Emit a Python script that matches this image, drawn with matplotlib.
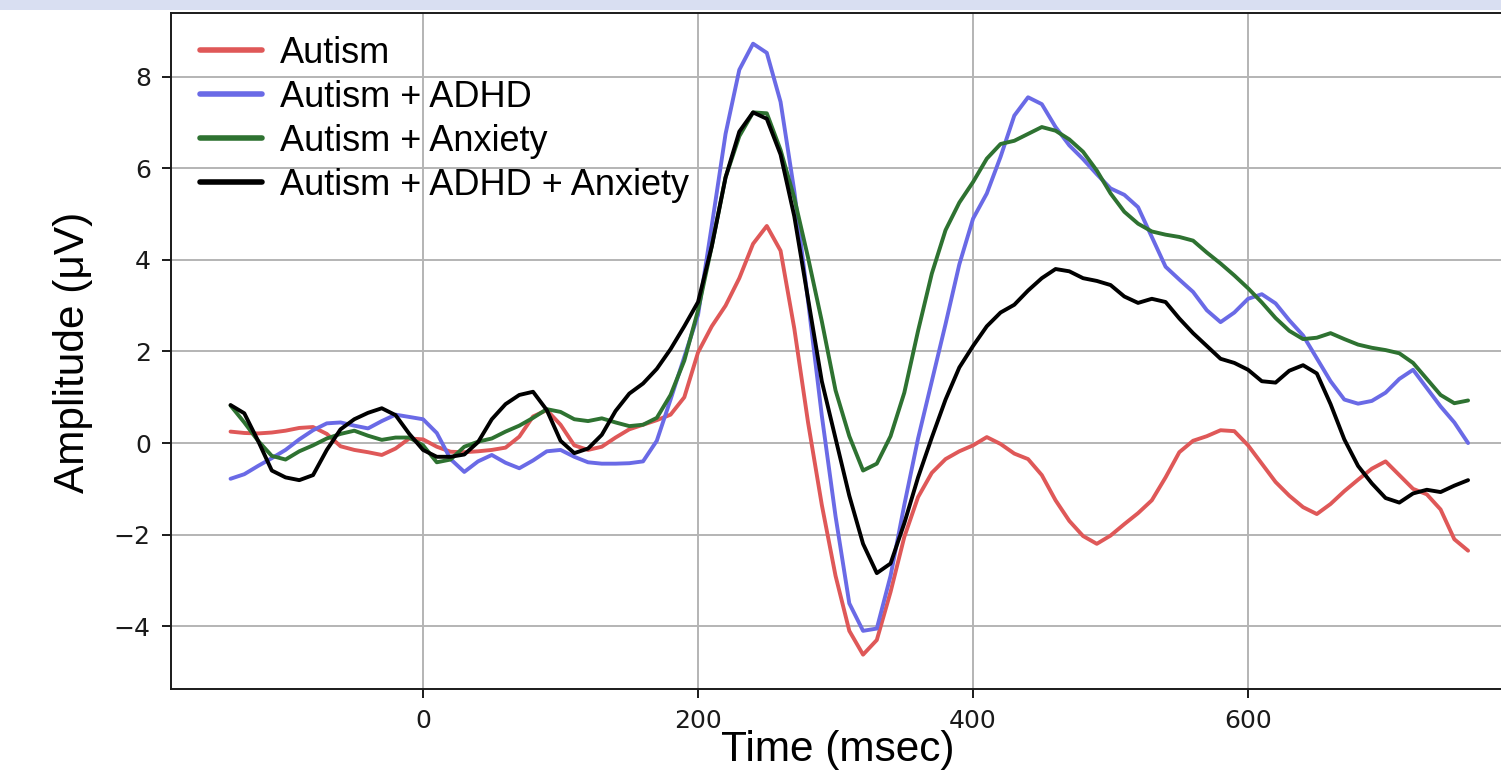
import matplotlib
matplotlib.use("Agg")
import matplotlib.pyplot as plt
import numpy as np
from matplotlib.font_manager import FontProperties
from matplotlib.patches import Rectangle

# ERP grand averages, sampled every 10 ms from -140 to 760 ms
time_ms = np.arange(-140, 761, 10)

autism = [
    0.25, 0.22, 0.21, 0.23, 0.27, 0.33, 0.35, 0.20, -0.07, -0.15,
    -0.20, -0.26, -0.12, 0.10, 0.08, -0.08, -0.19, -0.20, -0.18, -0.15,
    -0.10, 0.14, 0.58, 0.72, 0.40, -0.05, -0.15, -0.08, 0.12, 0.30,
    0.40, 0.50, 0.62, 1.00, 1.98, 2.55, 3.00, 3.60, 4.35, 4.74,
    4.20, 2.50, 0.45, -1.35, -2.90, -4.10, -4.62, -4.30, -3.25, -2.05,
    -1.18, -0.65, -0.35, -0.18, -0.05, 0.13, -0.02, -0.23, -0.35, -0.70,
    -1.25, -1.70, -2.03, -2.20, -2.02, -1.77, -1.53, -1.25, -0.75, -0.20,
    0.05, 0.15, 0.28, 0.26, -0.05, -0.45, -0.85, -1.15, -1.40, -1.55,
    -1.33, -1.05, -0.80, -0.56, -0.40, -0.70, -1.00, -1.12, -1.45, -2.10,
    -2.35,
]
autism_adhd = [
    -0.78, -0.68, -0.50, -0.33, -0.15, 0.08, 0.28, 0.43, 0.45, 0.38,
    0.32, 0.48, 0.62, 0.57, 0.52, 0.22, -0.35, -0.63, -0.40, -0.26,
    -0.43, -0.55, -0.38, -0.18, -0.15, -0.30, -0.42, -0.45, -0.45, -0.44,
    -0.40, 0.05, 0.95, 1.88, 2.80, 4.75, 6.75, 8.15, 8.72, 8.52,
    7.45, 5.50, 3.10, 0.60, -1.60, -3.50, -4.10, -4.05, -2.90, -1.35,
    0.10, 1.35, 2.60, 3.90, 4.90, 5.45, 6.25, 7.15, 7.55, 7.40,
    6.90, 6.50, 6.20, 5.87, 5.56, 5.42, 5.15, 4.50, 3.85, 3.57,
    3.30, 2.90, 2.64, 2.85, 3.15, 3.25, 3.05, 2.68, 2.35, 1.85,
    1.35, 0.95, 0.86, 0.92, 1.10, 1.40, 1.60, 1.20, 0.80, 0.45,
    0.00,
]
autism_anxiety = [
    0.82, 0.45, 0.05, -0.28, -0.36, -0.18, -0.05, 0.10, 0.20, 0.27,
    0.16, 0.07, 0.12, 0.12, -0.05, -0.42, -0.36, -0.08, 0.03, 0.10,
    0.25, 0.38, 0.55, 0.74, 0.68, 0.52, 0.48, 0.54, 0.45, 0.37,
    0.40, 0.55, 1.05, 1.80, 2.90, 4.30, 5.80, 6.70, 7.22, 7.20,
    6.40, 5.35, 4.05, 2.66, 1.15, 0.15, -0.60, -0.45, 0.15, 1.10,
    2.45, 3.70, 4.65, 5.25, 5.70, 6.21, 6.53, 6.60, 6.75, 6.90,
    6.82, 6.63, 6.36, 5.95, 5.45, 5.05, 4.79, 4.62, 4.55, 4.50,
    4.42, 4.16, 3.92, 3.66, 3.38, 3.07, 2.73, 2.45, 2.27, 2.30,
    2.40, 2.27, 2.15, 2.08, 2.03, 1.96, 1.75, 1.40, 1.05, 0.87,
    0.93,
]
autism_adhd_anxiety = [
    0.83, 0.65, 0.05, -0.60, -0.75, -0.81, -0.70, -0.15, 0.30, 0.52,
    0.66, 0.76, 0.61, 0.20, -0.15, -0.30, -0.30, -0.25, 0.02, 0.52,
    0.85, 1.05, 1.12, 0.72, 0.05, -0.22, -0.12, 0.18, 0.70, 1.08,
    1.30, 1.62, 2.05, 2.55, 3.08, 4.30, 5.80, 6.80, 7.22, 7.08,
    6.30, 4.95, 3.15, 1.35, 0.10, -1.15, -2.20, -2.84, -2.63, -1.75,
    -0.75, 0.12, 0.95, 1.65, 2.12, 2.55, 2.85, 3.02, 3.33, 3.60,
    3.80, 3.75, 3.60, 3.54, 3.45, 3.20, 3.06, 3.15, 3.08, 2.72,
    2.40, 2.12, 1.84, 1.75, 1.60, 1.35, 1.32, 1.58, 1.70, 1.52,
    0.85, 0.08, -0.50, -0.88, -1.20, -1.30, -1.10, -1.02, -1.07, -0.93,
    -0.81,
]

labels = ["Autism", "Autism + ADHD", "Autism + Anxiety", "Autism + ADHD + Anxiety"]
colors = ["#df5858", "#6a6ae6", "#2e7231", "black"]
series = [autism, autism_adhd, autism_anxiety, autism_adhd_anxiety]

W, H = 1501, 780
fig = plt.figure(figsize=(W / 100, H / 100), dpi=100)

# pale strip along the top edge of the screenshot
fig.patches.append(Rectangle((0, 1 - 10 / H), 1, 10 / H, transform=fig.transFigure,
                             facecolor="#d9dff2", edgecolor="none", zorder=0))

# axes runs past the right edge, as in the cropped original
ax = fig.add_axes([171 / W, 91 / H, 1361.7 / W, 676 / H])
ax.set_xlim(-183.3, 807)
ax.set_ylim(-5.37, 9.39)

for vals, col, lab in zip(series, colors, labels):
    ax.plot(time_ms, vals, color=col, lw=2.8, label=lab,
            solid_joinstyle="round", solid_capstyle="round")

ax.set_xticks([0, 200, 400, 600, 800])
ax.set_yticks([-4, -2, 0, 2, 4, 6, 8])
ax.tick_params(labelsize=18, length=6.5, width=1.4, pad=8, colors="#1a1a1a")
ax.grid(True, color="#b4b4b4", linewidth=1.4)
ax.set_axisbelow(True)
for sp in ax.spines.values():
    sp.set_linewidth(1.4)
    sp.set_color("#1a1a1a")

arial = ["Liberation Sans", "DejaVu Sans"]
leg = ax.legend(loc="upper left", bbox_to_anchor=(200 / W, 1 - 36 / H),
                bbox_transform=fig.transFigure, frameon=False,
                prop=FontProperties(family=arial, size=26),
                handlelength=1.72, handletextpad=0.5, labelspacing=0.25,
                borderpad=0, borderaxespad=0)
for ln in leg.get_lines():
    ln.set_linewidth(4.0)

fig.text(73 / W, 1 - 352 / H, "Amplitude (μV)", rotation=90, ha="center", va="center",
         fontsize=30.5, family=arial)
fig.text(838 / W, 1 - 750 / H, "Time (msec)", ha="center", va="center",
         fontsize=30.5, family=arial)

fig.savefig("out.png", dpi=100)
